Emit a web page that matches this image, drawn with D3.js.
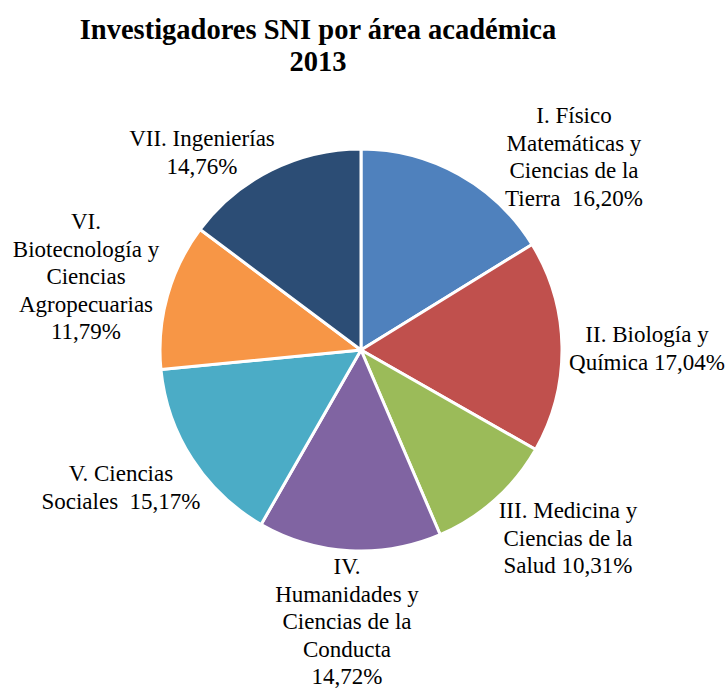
<!DOCTYPE html>
<html>
<head>
<meta charset="utf-8">
<script src="https://cdn.jsdelivr.net/npm/d3@7"></script>
<style>
  body { margin: 0; background: #fff; }
  text { fill: #000; }
</style>
</head>
<body>
<svg></svg>
<script>
let svgWidth = 728;
let svgHeight = 688;

// data
let areas = ["I. Físico Matemáticas y Ciencias de la Tierra",
             "II. Biología y Química",
             "III. Medicina y Ciencias de la Salud",
             "IV. Humanidades y Ciencias de la Conducta",
             "V. Ciencias Sociales",
             "VI. Biotecnología y Ciencias Agropecuarias",
             "VII. Ingenierías"];
let shares = [16.20, 17.04, 10.31, 14.72, 15.17, 11.79, 14.76];
let labelLines = [
  ["I. Físico", "Matemáticas y", "Ciencias de la", "Tierra  16,20%"],
  ["II. Biología y", "Química 17,04%"],
  ["III. Medicina y", "Ciencias de la", "Salud 10,31%"],
  ["IV.", "Humanidades y", "Ciencias de la", "Conducta", "14,72%"],
  ["V. Ciencias", "Sociales  15,17%"],
  ["VI.", "Biotecnología y", "Ciencias", "Agropecuarias", "11,79%"],
  ["VII. Ingenierías", "14,76%"]
];
let colors = ["#4F81BD", "#C0504D", "#9BBB59", "#8064A2", "#4BACC6", "#F79646", "#2C4D75"];

// layout
let cx = 361, cy = 350, radius = 201;
let lineH = 27.5;
// label block centre x, first line baseline
let labelPos = [[574, 123], [647, 342], [568, 518], [347, 574], [121, 481], [86, 229], [202, 146]];

var svg = d3.select("svg")
  .attr("width", svgWidth)
  .attr("height", svgHeight)
  .attr("font-family", "'Liberation Serif', 'Times New Roman', serif");

// title
svg.append("text")
  .text("Investigadores SNI por área académica")
  .attr("x", 318).attr("y", 39)
  .attr("font-size", "28.5px").attr("font-weight", "bold")
  .attr("text-anchor", "middle");
svg.append("text")
  .text("2013")
  .attr("x", 318).attr("y", 71)
  .attr("font-size", "28.5px").attr("font-weight", "bold")
  .attr("text-anchor", "middle");

let pie = d3.pie().sort(null).value(d => d);
let arc = d3.arc().innerRadius(0).outerRadius(radius);
let color = d3.scaleOrdinal().domain(d3.range(areas.length)).range(colors);

let g = svg.append("g").attr("transform", `translate(${cx}, ${cy})`);

g.selectAll("path")
  .data(pie(shares))
  .enter()
  .append("path")
    .attr("d", arc)
    .attr("fill", (d, i) => color(i))
    .attr("stroke", "#fff")
    .attr("stroke-width", 3)
    .attr("stroke-linejoin", "round");

// labels
labelLines.forEach((lines, i) => {
  let t = svg.append("text")
    .attr("font-size", "23px")
    .attr("text-anchor", "middle")
    .style("white-space", "pre");
  lines.forEach((ln, j) => {
    t.append("tspan")
      .attr("x", labelPos[i][0])
      .attr("y", labelPos[i][1] + j * lineH)
      .text(ln);
  });
});
</script>
</body>
</html>
